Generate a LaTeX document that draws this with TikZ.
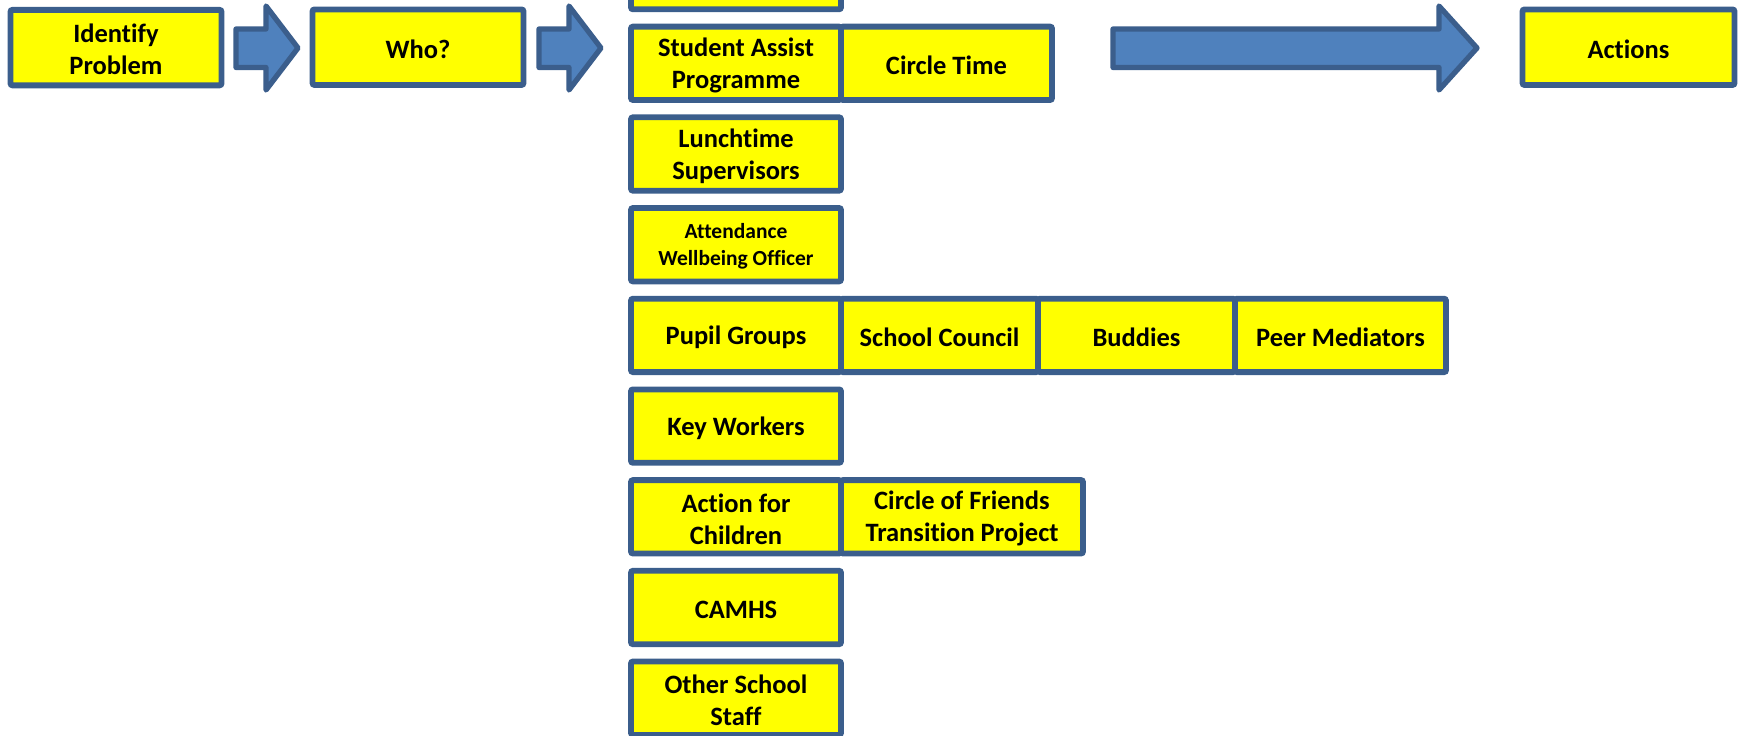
\documentclass[tikz,border=0pt]{standalone}
\usepackage{fontspec}
\setmainfont[Ligatures=NoCommon]{Carlito}
\definecolor{boxy}{HTML}{FFFF00}
\definecolor{bordc}{HTML}{3B5E8C}
\definecolor{arrowc}{HTML}{4F81BD}
\newcommand{\bxs}{\rule{0pt}{0.86em}}
\begin{document}
\begin{tikzpicture}[x=1pt,y=-1pt,
  box/.style={draw=bordc, fill=boxy, line width=5.8pt, rounded corners=2pt,
    inner sep=0pt, align=center, text=black,
    font=\bfseries\fontsize{26.5}{32}\selectfont},
  topbox/.style={box, minimum width=211pt, minimum height=75.5pt},
  colbox/.style={box, minimum width=210pt, minimum height=73.4pt},
  smalltext/.style={font=\bfseries\fontsize{21.5}{26.6}\selectfont},
  blockarrow/.style={draw=bordc, fill=arrowc, line width=5.3pt, line join=round}
]
\useasboundingbox (0,0) rectangle (1740,736);

% top row
\node[topbox] (idp) at (116,47.6) {\bxs Identify\\Problem};
\node[topbox] (who) at (418,47.2) {\bxs Who?};
\node[topbox, minimum width=212pt] (act) at (1628.5,47.2) {\bxs Actions};

% block arrows
\draw[blockarrow] (236,29) -- (266,29) -- (266,6) -- (298,48) -- (266,90) -- (266,67.5) -- (236,67.5) -- cycle;
\draw[blockarrow] (539,29) -- (569,29) -- (569,6) -- (601,48) -- (569,90) -- (569,67.5) -- (539,67.5) -- cycle;
\draw[blockarrow] (1113,29) -- (1439,29) -- (1439,6) -- (1477,48) -- (1439,90) -- (1439,67.5) -- (1113,67.5) -- cycle;

% column of boxes
\node[colbox] (top) at (736,-27.4) {};
\node[colbox] (sap) at (736,63.3) {\bxs Student Assist\\Programme};
\node[colbox, minimum width=211pt] (ct) at (946.5,63.3) {\bxs Circle Time};
\node[colbox] (lts) at (736,154.0) {\bxs Lunchtime\\Supervisors};
\node[colbox, smalltext] (awo) at (736,244.7) {\bxs Attendance\\Wellbeing Officer};
\node[colbox] (pg) at (736,335.4) {\bxs Pupil Groups};
\node[colbox, minimum width=197pt] (sc) at (939.5,335.4) {\bxs School Council};
\node[colbox, minimum width=197pt] (bud) at (1136.5,335.4) {\bxs Buddies};
\node[colbox, minimum width=211pt] (pm) at (1340.5,335.4) {\bxs Peer Mediators};
\node[colbox] (kw) at (736,426.1) {\bxs Key Workers};
\node[colbox] (afc) at (736,516.8) {\bxs Action for\\Children};
\node[colbox, minimum width=242pt] (cof) at (962,516.8) {\bxs Circle of Friends\\Transition Project};
\node[colbox] (cam) at (736,607.5) {\bxs CAMHS};
\node[colbox] (oss) at (736,698.2) {\bxs Other School\\Staff};
\end{tikzpicture}
\end{document}
